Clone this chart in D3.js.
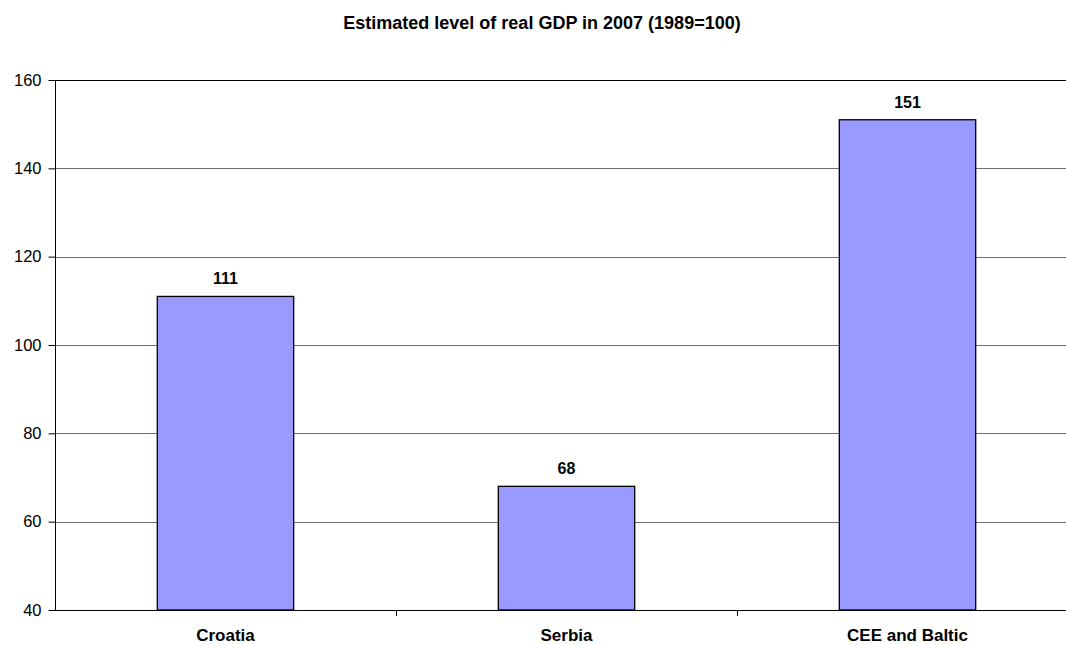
<!DOCTYPE html>
<html>
<head>
<meta charset="utf-8">
<script src="https://cdn.jsdelivr.net/npm/d3@7"></script>
<style>
  html, body { margin: 0; padding: 0; background: #fff; overflow: hidden; }
  svg { display: block; font-family: "Liberation Sans", Arial, sans-serif; }
</style>
</head>
<body>
<svg id="chart" width="1066" height="645"></svg>
<script>
// Estimated level of real GDP in 2007, index 1989 = 100
const categories = ["Croatia", "Serbia", "CEE and Baltic"];
const values = [111, 68, 151];
const valueLabels = ["111", "68", "151"];
const yTicks = [40, 60, 80, 100, 120, 140, 160];
const title = "Estimated level of real GDP in 2007 (1989=100)";

const svg = d3.select("#chart");
const plot = { left: 55, right: 1078, top: 80, bottom: 610 };

const x = d3.scaleBand()
  .domain(categories)
  .range([plot.left, plot.right])
  .paddingInner(0.6)
  .paddingOuter(0.3);

const y = d3.scaleLinear()
  .domain([40, 160])
  .range([plot.bottom, plot.top]);

// title
svg.append("text")
  .attr("x", 542)
  .attr("y", 29)
  .attr("text-anchor", "middle")
  .attr("font-weight", "bold")
  .attr("font-size", 18)
  .text(title);

// horizontal gridlines
svg.append("g")
  .selectAll("line")
  .data(yTicks.filter(d => d > 40))
  .join("line")
  .attr("x1", plot.left)
  .attr("x2", plot.right)
  .attr("y1", d => Math.round(y(d)) + 0.5)
  .attr("y2", d => Math.round(y(d)) + 0.5)
  .attr("stroke", d => d === 160 ? "#000" : "#6e6e6e")
  .attr("stroke-width", 1);

// bars
svg.append("g")
  .selectAll("rect")
  .data(values)
  .join("rect")
  .attr("x", (d, i) => x(categories[i]))
  .attr("y", d => y(d))
  .attr("width", x.bandwidth())
  .attr("height", d => y(40) - y(d))
  .attr("fill", "#9999ff")
  .attr("stroke", "#000")
  .attr("stroke-width", 1.3);

// value labels
svg.append("g")
  .selectAll("text")
  .data(values)
  .join("text")
  .attr("x", (d, i) => x(categories[i]) + x.bandwidth() / 2)
  .attr("y", d => y(d) - 12)
  .attr("text-anchor", "middle")
  .attr("font-weight", "bold")
  .attr("font-size", 16)
  .text((d, i) => valueLabels[i]);

// y axis
const yAxis = d3.axisLeft(y)
  .tickValues(yTicks)
  .tickSize(7)
  .tickPadding(7)
  .tickFormat(d3.format("d"));

const gy = svg.append("g")
  .attr("transform", `translate(${plot.left + 0.5},0)`)
  .call(yAxis);
gy.select(".domain").attr("stroke", "#000").attr("d", `M0,${plot.top}V${plot.bottom}`);
gy.selectAll(".tick line").attr("stroke", "#000");
gy.selectAll(".tick text")
  .attr("font-size", 16.5)
  .attr("font-family", "Liberation Sans, Arial, sans-serif")
  .attr("fill", "#000");

// x axis with ticks between categories
const xBoundaries = d3.scaleLinear().domain([0, categories.length]).range([plot.left, plot.right]);
const gx = svg.append("g");
gx.append("line")
  .attr("x1", plot.left)
  .attr("x2", plot.right)
  .attr("y1", plot.bottom + 0.5)
  .attr("y2", plot.bottom + 0.5)
  .attr("stroke", "#000");
gx.selectAll(".sep")
  .data(d3.range(1, categories.length + 1))
  .join("line")
  .attr("class", "sep")
  .attr("x1", d => Math.round(xBoundaries(d)) + 0.5)
  .attr("x2", d => Math.round(xBoundaries(d)) + 0.5)
  .attr("y1", plot.bottom)
  .attr("y2", plot.bottom + 6)
  .attr("stroke", "#000");
gx.selectAll(".cat")
  .data(categories)
  .join("text")
  .attr("class", "cat")
  .attr("x", d => x(d) + x.bandwidth() / 2)
  .attr("y", 641)
  .attr("text-anchor", "middle")
  .attr("font-weight", "bold")
  .attr("font-size", 17)
  .text(d => d);
</script>
</body>
</html>
